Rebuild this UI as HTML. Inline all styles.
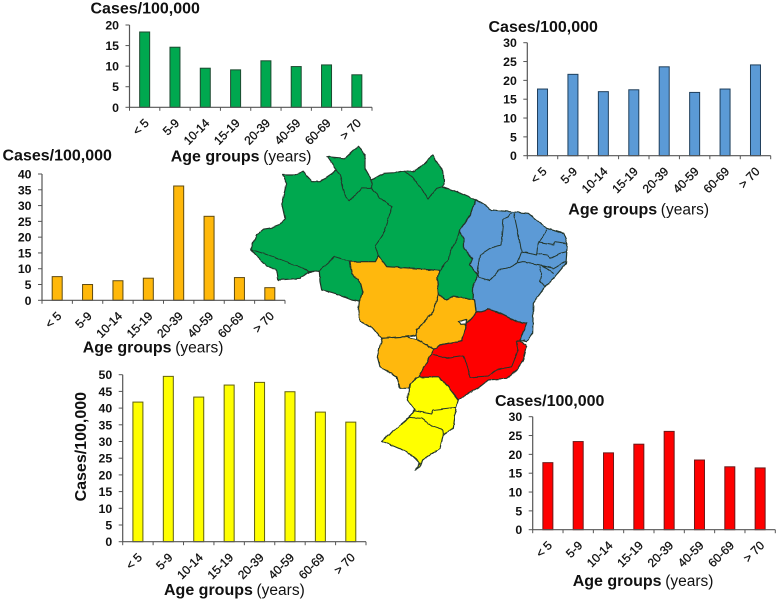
<!DOCTYPE html>
<html lang="en">
<head>
<meta charset="utf-8">
<title>Cases per 100,000 by age group across Brazilian regions</title>
<style>
html,body{margin:0;padding:0;background:#fff;}
svg{display:block;}
text{font-family:"Liberation Sans",Arial,sans-serif;fill:#111;}
.title{font-size:16px;font-weight:bold;}
.ytick{font-size:12.3px;font-weight:bold;text-anchor:end;}
.xcat{font-size:12px;text-anchor:end;stroke:#111;stroke-width:.3px;}
.xtitle{font-size:16px;font-weight:bold;}
.xunit{font-size:15.5px;font-weight:normal;}
.map path{stroke-linejoin:round;stroke-linecap:round;}
</style>
</head>
<body>
<svg id="figure" xmlns="http://www.w3.org/2000/svg" width="778" height="601" viewBox="0 0 778 601">
  <defs>
    <filter id="rough-edge" x="-5%" y="-5%" width="110%" height="110%">
      <feTurbulence type="fractalNoise" baseFrequency="0.05" numOctaves="2" seed="4" result="noise"/>
      <feDisplacementMap in="SourceGraphic" in2="noise" scale="7" xChannelSelector="R" yChannelSelector="G"/>
    </filter>
  </defs>
  <rect width="778" height="601" fill="#fff"/>
  <g class="map" transform="translate(240 140) scale(.33333)" stroke="#24352a" stroke-width="3.6" filter="url(#rough-edge)">
    <path fill="#00a84f" d="M32 328L50 285 70 268 100 262 118 255 135 235 125 190 140 130 128 105 165 105 188 95 215 125 240 125 280 98 290 90 262 50 315 55 355 18 375 45 375 85 395 120 430 100 465 98 495 92 520 95 555 70 578 45 610 95 612 125 608 140 650 155 707 180 690 225 660 270 658 275 672 295 672 325 698 355 690 375 715 405 700 430 698 478 640 470 620 480 595 465 592 420 600 390 440 380 415 345 405 365 330 365 335 400 362 430 368 455 358 485 335 480 285 460 245 450 240 425 238 392 205 397 180 415 115 420 110 390 80 378 60 358Z"/>
    <path fill="#5b9ad6" d="M707 180L735 195 755 210 810 215 865 220 920 265 970 280 982 310 978 370 945 410 915 440 880 490 878 580 860 605 840 600 860 548 830 545 770 515 745 508 710 518 705 480 698 478 700 430 715 405 690 375 698 355 672 325 672 295 658 275 660 270 690 225Z"/>
    <path fill="#ffb80a" d="M330 365L405 365 415 345 440 380 600 390 592 420 595 465 580 515 530 570 530 585 495 590 425 595 400 565 360 545 355 510 358 485 368 455 362 430 335 400Z"/>
    <path fill="#ffb80a" d="M595 465L620 480 640 470 698 478 705 480 710 518 680 550 665 602 600 615 582 628 530 598 530 570 580 515Z"/>
    <path fill="#ffb80a" d="M425 595L495 590 530 598 582 628 535 712 505 745 480 745 470 710 420 680 412 650Z"/>
    <path fill="#fff" d="M655 545L680 538 680 552 663 553Z"/>
    <path fill="#fe0000" d="M710 518L745 508 770 515 830 545 860 548 840 600 860 620 850 660 830 690 800 715 745 720 720 740 655 778 620 735 595 712 535 712 582 628 600 615 665 602 680 550Z"/>
    <path fill="#ffff00" d="M535 712L595 712 620 735 655 780 648 802 640 865 610 885 600 925 548 960 540 980 525 990 540 970 525 955 500 935 460 918 425 903 508 832 525 810 502 780 510 730Z"/>
    <path fill="none" stroke-width="3" d="M32 328L100 350 190 385 205 395 238 392 285 350 330 365M290 90L300 105 315 165 328 183 365 145 395 145 420 175 457 200 430 280 405 318 415 345M395 120L395 145M495 95L530 125 565 178 590 145 608 140M658 275L650 300 630 335 625 360 600 392M815 220L790 240 783 315 750 325 720 345 712 390 718 412 750 422 775 390 805 385 832 370 845 335 830 260 822 222M920 270L893 315 890 345 845 335M895 307L940 315 945 305 980 310M890 340L920 345 930 355 960 340 980 335M832 370L855 365 875 370 900 375 940 385 975 365M905 375L940 400M900 380L905 400 900 422 915 440M580 645L620 655 670 648 680 670 690 712 745 708 770 690 815 680 835 630 830 603 855 600M520 812L575 822 580 810 620 805 648 802M508 832L545 835 580 860 610 870 612 885"/>
  </g>
</svg>
<script>
var categories = ['< 5', '5-9', '10-14', '15-19', '20-39', '40-59', '60-69', '> 70'];
var northValues = [18.3, 14.6, 9.5, 9.1, 11.3, 9.9, 10.3, 7.9];
var northeastValues = [17.7, 21.6, 17.0, 17.5, 23.6, 16.8, 17.7, 24.1];
var midwestValues = [7.5, 5.0, 6.2, 7.0, 36.2, 26.6, 7.2, 4.0];
var southValues = [41.8, 49.5, 43.3, 46.9, 47.7, 44.9, 38.8, 35.8];
var southeastValues = [17.8, 23.4, 20.4, 22.7, 26.1, 18.5, 16.7, 16.4];
var northTicks = [0, 5, 10, 15, 20];
var northeastTicks = [0, 5, 10, 15, 20, 25, 30];
var midwestTicks = [0, 5, 10, 15, 20, 25, 30, 35, 40];
var southTicks = [0, 5, 10, 15, 20, 25, 30, 35, 40, 45, 50];
var southeastTicks = [0, 5, 10, 15, 20, 25, 30];

var svgNS = 'http://www.w3.org/2000/svg';
var figure = document.getElementById('figure');

function make(parent, tag, attrs, content) {
  var el = document.createElementNS(svgNS, tag);
  for (var key in attrs) { el.setAttribute(key, attrs[key]); }
  if (content !== undefined) { el.textContent = content; }
  parent.appendChild(el);
  return el;
}

function drawChart(opt) {
  var n = categories.length;
  var maxTick = opt.ticks[opt.ticks.length - 1];
  var xStep = (opt.right - opt.left) / n;
  function xCenter(i) { return opt.left + xStep * (i + 0.5); }
  function yScale(v) { return opt.bottom - (v / maxTick) * (opt.bottom - opt.top); }

  var g = make(figure, 'g', {});
  
  

  opt.values.forEach(function (v, i) {
    var bar = make(g, 'rect', {
      x: xCenter(i) - 5, y: yScale(v), width: 10, height: opt.bottom - yScale(v),
      fill: opt.fill, stroke: opt.edge, 'stroke-width': 1
    });
    
    
  });

  var yAxis = make(g, 'line', { x1: opt.left, x2: opt.left, y1: opt.top, y2: opt.bottom, stroke: '#555', 'stroke-width': 1.2 });
  
  

  var xAxis = make(g, 'line', { x1: opt.left, x2: opt.right, y1: opt.bottom, y2: opt.bottom, stroke: '#555', 'stroke-width': 1.2 });
  
  

  opt.ticks.forEach(function (t) {
    var y = yScale(t);
    make(g, 'line', { x1: opt.left - 4, x2: opt.left, y1: y, y2: y, stroke: '#555', 'stroke-width': 1 });
    var label = make(g, 'text', { x: opt.left - 10.5, y: y + 4.5, 'class': 'ytick' }, String(t));
    
    
  });

  for (var k = 0; k <= n; k++) {
    var tx = opt.left + xStep * k;
    make(g, 'line', { x1: tx, x2: tx, y1: opt.bottom, y2: opt.bottom + 3.5, stroke: '#555', 'stroke-width': 1 });
  }

  categories.forEach(function (c, i) {
    var ax = xCenter(i) + 5;
    var ay = opt.bottom + 16.5;
    var cat = make(g, 'text', { x: ax, y: ay, 'class': 'xcat', transform: 'rotate(-45 ' + ax + ' ' + ay + ')' }, c);
    
    
  });

  var title;
  if (opt.titleRotated) {
    title = make(g, 'text', {
      x: opt.titleX, y: opt.titleY, 'class': 'title', 'text-anchor': 'middle',
      transform: 'rotate(-90 ' + opt.titleX + ' ' + opt.titleY + ')'
    }, 'Cases/100,000');
  } else {
    title = make(g, 'text', { x: opt.titleX, y: opt.titleY, 'class': 'title' }, 'Cases/100,000');
  }
  
  

  var xTitle = make(g, 'text', { x: opt.xTitleX, y: opt.xTitleY, 'class': 'xtitle' }, 'Age groups');
  
  

  var unit = make(g, 'text', { x: opt.xTitleX + 92.5, y: opt.xTitleY, 'class': 'xunit' }, '(years)');
  
  
}

drawChart({ name: 'north', values: northValues, ticks: northTicks, left: 129.5, right: 372, top: 25, bottom: 107.3,
  fill: '#00a84f', edge: '#1d4a30', titleX: 90.5, titleY: 13.5, xTitleX: 170.7, xTitleY: 161.7 });
drawChart({ name: 'northeast', values: northeastValues, ticks: northeastTicks, left: 527.3, right: 770.7, top: 42.7, bottom: 155.7,
  fill: '#5b9ad6', edge: '#1f3f5c', titleX: 488.5, titleY: 32, xTitleX: 568.3, xTitleY: 214.3 });
drawChart({ name: 'midwest', values: midwestValues, ticks: midwestTicks, left: 42, right: 285, top: 174, bottom: 300.3,
  fill: '#ffb80a', edge: '#5f4a10', titleX: 2.5, titleY: 160.7, xTitleX: 82.7, xTitleY: 352.7 });
drawChart({ name: 'south', values: southValues, ticks: southTicks, left: 122.7, right: 366, top: 374.7, bottom: 541.7,
  fill: '#ffff00', edge: '#5f5f10', titleX: 86, titleY: 446.7, titleRotated: true, xTitleX: 164, xTitleY: 595 });
drawChart({ name: 'southeast', values: southeastValues, ticks: southeastTicks, left: 532.7, right: 775.3, top: 416.7, bottom: 529.7,
  fill: '#fe0000', edge: '#6a1a1a', titleX: 495, titleY: 406, xTitleX: 572.7, xTitleY: 586 });
</script>
</body>
</html>
